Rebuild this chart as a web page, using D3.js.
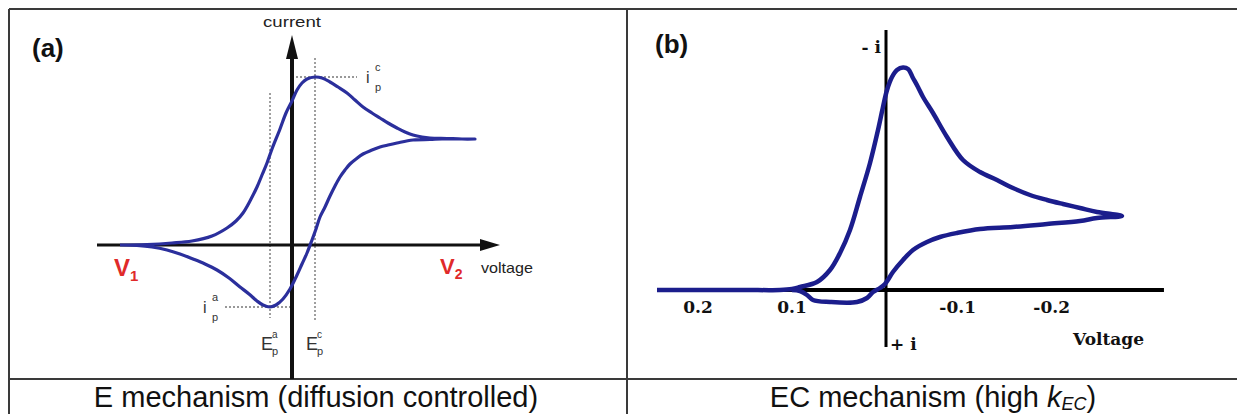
<!DOCTYPE html>
<html><head><meta charset="utf-8">
<script src="https://cdn.jsdelivr.net/npm/d3@7"></script>
<style>html,body{margin:0;padding:0;background:#fff;} svg{display:block;}</style>
</head><body>
<svg id="c" width="1237" height="414"></svg>
<script>
// ---------- DATA ----------
// Panel (a): E mechanism, [voltage (a.u.), current (a.u.)]
const cvA_forward = [[-17.2,0],[-14.5,0.05],[-12.0,0.2],[-10.0,0.4],[-8.0,0.9],[-6.5,1.7],[-5.6,2.4],[-4.9,3.2],[-4.2,4.4],[-3.5,5.8],[-3.0,7.0],[-2.5,8.2],[-2.0,9.6],[-1.2,11.6],[-0.6,13.2],[0.0,14.4],[0.5,15.5],[1.0,16.2],[1.5,16.6],[2.3,16.8],[3.0,16.7],[3.8,16.3],[4.6,15.8],[5.5,15.2],[6.3,14.5],[7.1,13.8],[8.0,13.2],[8.8,12.7],[9.6,12.2],[10.5,11.7],[11.3,11.3],[12.1,11.0],[13.0,10.8],[13.8,10.7],[15.5,10.65],[17.0,10.6],[18.3,10.6]];
const cvA_reverse = [[18.3,10.6],[16.5,10.6],[15.0,10.6],[13.8,10.55],[12.1,10.5],[10.5,10.2],[9.6,10.0],[8.8,9.8],[8.0,9.5],[7.1,9.1],[6.4,8.6],[5.8,8.1],[5.3,7.5],[4.8,6.8],[4.3,5.9],[3.8,4.9],[3.3,3.8],[2.8,2.8],[2.4,1.6],[2.0,0.5],[1.5,-0.8],[1.0,-1.9],[0.5,-3.0],[-0.2,-4.4],[-0.9,-5.4],[-1.6,-6.0],[-2.2,-6.2],[-2.9,-6.0],[-3.5,-5.6],[-4.3,-4.9],[-5.2,-4.2],[-6.3,-3.3],[-7.5,-2.5],[-8.7,-1.9],[-9.9,-1.4],[-11.2,-0.9],[-12.5,-0.5],[-14.0,-0.2],[-15.5,-0.05],[-17.2,0]];
// Panel (b): EC mechanism, [voltage (V), -i (a.u.)]
const cvB_forward = [[0.2436,0],[0.2,0],[0.15,0],[0.113,0],[0.100,0.1],[0.0915,0.3],[0.0734,0.8],[0.0596,2.0],[0.0489,3.7],[0.0383,6.0],[0.0277,9.3],[0.0170,12.7],[0.0085,16.0],[0.0032,18.3],[-0.0011,20.0],[-0.0064,21.3],[-0.0117,22.0],[-0.0181,22.25],[-0.0234,22.1],[-0.0287,21.2],[-0.034,20.3],[-0.0394,19.3],[-0.0500,17.7],[-0.0649,15.3],[-0.0819,13.0],[-0.1000,11.8],[-0.1181,11.0],[-0.1351,10.2],[-0.1532,9.5],[-0.1713,9.0],[-0.1883,8.6],[-0.2064,8.2],[-0.2245,7.8],[-0.2511,7.4]];
const cvB_reverse = [[-0.2511,7.4],[-0.2245,7.2],[-0.2064,6.9],[-0.1713,6.6],[-0.1351,6.3],[-0.1000,6.1],[-0.0755,5.7],[-0.0574,5.3],[-0.0436,4.8],[-0.0287,4.0],[-0.0181,3.0],[-0.0074,1.8],[0.0011,0.6],[0.0064,0.2],[0.0138,-0.2],[0.0202,-0.8],[0.0309,-1.2],[0.0596,-1.2],[0.0777,-1.0],[0.0840,-0.5],[0.0915,-0.1],[0.100,0]];
const tickValuesB = [0.2, 0.1, -0.1, -0.2];
const tickLabelsB = ["0.2", "0.1", "-0.1", "-0.2"];
const captionA = "E mechanism (diffusion controlled)";
const captionB = ["EC mechanism (high ", "k", "EC", ")"];

// ---------- LAYOUT ----------
const svg = d3.select("#c");
const SANS = "'Liberation Sans', Arial, sans-serif";
const SERIF = "'DejaVu Serif', serif";

// table grid
const grid = svg.append("g").attr("stroke", "#3a3a3a").attr("stroke-width", 2).attr("fill", "none");
grid.append("line").attr("x1", 9).attr("x2", 1237).attr("y1", 9).attr("y2", 9);
grid.append("line").attr("x1", 9).attr("x2", 9).attr("y1", 9).attr("y2", 414);
grid.append("line").attr("x1", 627).attr("x2", 627).attr("y1", 9).attr("y2", 414);
grid.append("line").attr("x1", 9).attr("x2", 1237).attr("y1", 379).attr("y2", 379);

// ---------- PANEL (a) ----------
const xA = d3.scaleLinear().domain([-19.5, 20.8]).range([97, 500]);
const yA = d3.scaleLinear().domain([-13.4, 21.0]).range([379, 35]);
const gA = svg.append("g");

const peakA = cvA_forward.reduce((a, b) => b[1] > a[1] ? b : a);
const trA = cvA_reverse.reduce((a, b) => b[1] < a[1] ? b : a);

// dotted guides
const dot = gA.append("g").attr("stroke", "#777").attr("stroke-width", 1.4).attr("stroke-dasharray", "2,2");
dot.append("line").attr("x1", xA(peakA[0])).attr("x2", xA(peakA[0])).attr("y1", yA(peakA[1]) - 19).attr("y2", 322);
dot.append("line").attr("x1", xA(trA[0])).attr("x2", xA(trA[0])).attr("y1", 93).attr("y2", 318);
dot.append("line").attr("x1", xA(0)).attr("x2", xA(peakA[0]) + 42).attr("y1", yA(peakA[1])).attr("y2", yA(peakA[1]));
dot.append("line").attr("x1", xA(trA[0]) - 45).attr("x2", xA(0)).attr("y1", yA(trA[1])).attr("y2", yA(trA[1]));

// axes
gA.append("line").attr("x1", xA(-19.5)).attr("x2", xA(19.5)).attr("y1", yA(0)).attr("y2", yA(0))
  .attr("stroke", "#111").attr("stroke-width", 3);
gA.append("line").attr("x1", xA(0)).attr("x2", xA(0)).attr("y1", yA(19.0)).attr("y2", yA(-13.4))
  .attr("stroke", "#111").attr("stroke-width", 4);
// arrowheads
const ax0 = xA(0), ay0 = yA(0);
gA.append("path").attr("fill", "#111")
  .attr("d", `M${ax0},${yA(21.0)} L${ax0 - 6},${yA(18.6)} L${ax0 + 6},${yA(18.6)} Z`);
gA.append("path").attr("fill", "#111")
  .attr("d", `M${xA(20.8)},${ay0} L${xA(18.8)},${ay0 - 6} L${xA(18.8)},${ay0 + 6} Z`);

// curve
const lineA = d3.line().x(d => xA(d[0])).y(d => yA(d[1])).curve(d3.curveCatmullRom.alpha(0.5));
gA.append("path").attr("d", lineA(cvA_forward.concat(cvA_reverse.slice(1))))
  .attr("fill", "none").attr("stroke", "#2b2f9c").attr("stroke-width", 3.2).attr("stroke-linejoin", "round");

// labels
gA.append("text").attr("x", 32).attr("y", 57).attr("font-family", SANS).attr("font-size", 26)
  .attr("font-weight", "bold").attr("fill", "#111").text("(a)");
gA.append("text").attr("x", xA(0)).attr("y", 27).attr("text-anchor", "middle").attr("font-family", SANS)
  .attr("font-size", 15).attr("fill", "#222").attr("textLength", 58).attr("lengthAdjust", "spacingAndGlyphs").text("current");
gA.append("text").attr("x", 481).attr("y", 273).attr("font-family", SANS)
  .attr("font-size", 15).attr("fill", "#222").attr("textLength", 52).attr("lengthAdjust", "spacingAndGlyphs").text("voltage");
// V1, V2
const v1 = gA.append("text").attr("x", 114).attr("y", 276).attr("font-family", SANS).attr("font-weight", "bold").attr("fill", "#e02a2a");
v1.append("tspan").attr("font-size", 24).text("V");
v1.append("tspan").attr("font-size", 15).attr("dy", 5).text("1");
const v2 = gA.append("text").attr("x", 440).attr("y", 274).attr("font-family", SANS).attr("font-weight", "bold").attr("fill", "#e02a2a");
v2.append("tspan").attr("font-size", 22).text("V");
v2.append("tspan").attr("font-size", 14).attr("dy", 5).text("2");
// i_p labels
function ipLabel(x, y, sup) {
  gA.append("text").attr("x", x).attr("y", y).attr("font-family", SANS).attr("font-size", 16).attr("fill", "#333").text("i");
  gA.append("text").attr("x", x + 9).attr("y", y - 12).attr("font-family", SANS).attr("font-size", 11).attr("fill", "#333").text(sup);
  gA.append("text").attr("x", x + 9).attr("y", y + 8).attr("font-family", SANS).attr("font-size", 11).attr("fill", "#333").text("p");
}
ipLabel(xA(peakA[0]) + 51, yA(peakA[1]) + 6, "c");
ipLabel(xA(trA[0]) - 67, yA(trA[1]) + 6, "a");
function epLabel(x, sup) {
  gA.append("text").attr("x", x - 9).attr("y", 350).attr("font-family", SANS).attr("font-size", 18).attr("fill", "#333").text("E");
  gA.append("text").attr("x", x + 2).attr("y", 338).attr("font-family", SANS).attr("font-size", 10).attr("fill", "#333").text(sup);
  gA.append("text").attr("x", x + 2).attr("y", 355).attr("font-family", SANS).attr("font-size", 11).attr("fill", "#333").text("p");
}
epLabel(xA(trA[0]), "a");
epLabel(xA(peakA[0]), "c");

// ---------- PANEL (b) ----------
const xB = d3.scaleLinear().domain([0.2, -0.2]).range([698, 1074]);
const yB = d3.scaleLinear().domain([-5.7, 26]).range([347, 30]);
const gB = svg.append("g");

gB.append("line").attr("x1", xB(0.2436)).attr("x2", xB(-0.2957)).attr("y1", yB(0)).attr("y2", yB(0))
  .attr("stroke", "#000").attr("stroke-width", 4);
gB.append("line").attr("x1", xB(0)).attr("x2", xB(0)).attr("y1", yB(26)).attr("y2", yB(-5.7))
  .attr("stroke", "#000").attr("stroke-width", 3);

const lineB = d3.line().x(d => xB(d[0])).y(d => yB(d[1])).curve(d3.curveCatmullRom.alpha(0.5));
gB.append("path").attr("d", lineB(cvB_forward.concat(cvB_reverse.slice(1))))
  .attr("fill", "none").attr("stroke", "#1b1d8c").attr("stroke-width", 4.5).attr("stroke-linejoin", "round");

gB.selectAll("text.tick").data(tickValuesB).enter().append("text").attr("class", "tick")
  .attr("x", d => d < 0 ? xB(d) - 4 : xB(d)).attr("y", yB(0) + 23)
  .attr("text-anchor", d => d < 0 ? "end" : "middle")
  .attr("font-family", SERIF).attr("font-weight", "bold").attr("font-size", 17).attr("fill", "#111")
  .text((d, i) => tickLabelsB[i]);

gB.append("text").attr("x", 655).attr("y", 53).attr("font-family", SANS).attr("font-size", 26)
  .attr("font-weight", "bold").attr("fill", "#111").text("(b)");
gB.append("text").attr("x", xB(0) - 5).attr("y", 53).attr("text-anchor", "end").attr("font-family", SERIF)
  .attr("font-weight", "bold").attr("font-size", 17).attr("fill", "#111").text("- i");
gB.append("text").attr("x", xB(0) + 4).attr("y", 350).attr("font-family", SERIF)
  .attr("font-weight", "bold").attr("font-size", 17).attr("fill", "#111").text("+ i");
gB.append("text").attr("x", 1073).attr("y", 345).attr("font-family", SERIF)
  .attr("font-weight", "bold").attr("font-size", 17).attr("fill", "#111").text("Voltage");

// ---------- CAPTIONS ----------
svg.append("text").attr("x", 316).attr("y", 407).attr("text-anchor", "middle").attr("font-family", SANS)
  .attr("font-size", 29).attr("fill", "#111").text(captionA);
const cb = svg.append("text").attr("x", 933).attr("y", 407).attr("text-anchor", "middle").attr("font-family", SANS)
  .attr("font-size", 29).attr("fill", "#111");
cb.append("tspan").text(captionB[0]);
cb.append("tspan").attr("font-style", "italic").text(captionB[1]);
cb.append("tspan").attr("font-style", "italic").attr("font-size", 18).attr("dy", 3).text(captionB[2]);
cb.append("tspan").attr("dy", -3).text(captionB[3]);
</script>
</body></html>
